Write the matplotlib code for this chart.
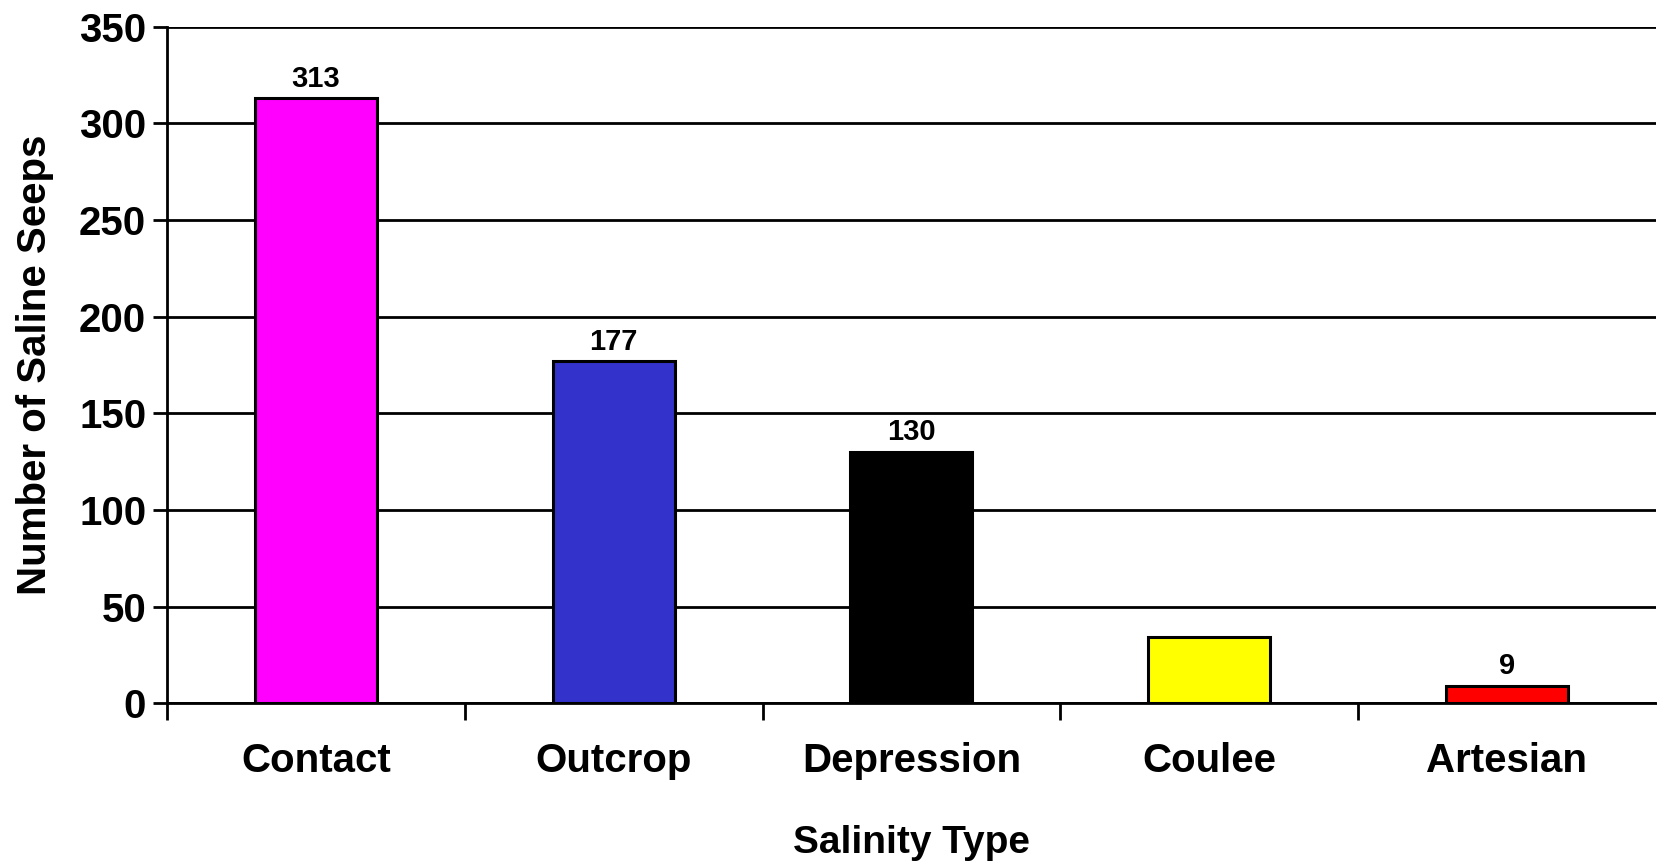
import matplotlib

matplotlib.use("Agg")
import matplotlib.pyplot as plt

categories = ["Contact", "Outcrop", "Depression", "Coulee", "Artesian"]
counts = [313, 177, 130, 34, 9]
bar_labels = ["313", "177", "130", "", "9"]
bar_colors = ["#FF00FF", "#3333CC", "#000000", "#FFFF00", "#FF0000"]
y_ticks = [0, 50, 100, 150, 200, 250, 300, 350]

plt.rcParams["font.family"] = ["Liberation Sans", "DejaVu Sans"]
plt.rcParams["font.weight"] = "bold"

fig = plt.figure(figsize=(16.57, 8.66), dpi=100)
ax = fig.add_axes([0.1008, 0.188, 0.8985, 0.781])

x = range(len(categories))
bars = ax.bar(x, counts, width=0.41, color=bar_colors, edgecolor="black", linewidth=2.2, zorder=3)
for bar, label in zip(bars, bar_labels):
    if label:
        ax.annotate(label, (bar.get_x() + bar.get_width() / 2, bar.get_height()), xytext=(0, 4),
                    textcoords="offset points", ha="center", va="bottom", fontsize=21, fontweight="bold")

ax.set_xlim(-0.5, len(categories) - 0.5)
ax.set_ylim(0, 350)
ax.set_yticks(y_ticks)
ax.set_xticks(x, categories)
ax.set_xticks([i - 0.5 for i in range(len(categories))], minor=True)
ax.tick_params(axis="x", which="major", length=0, labelsize=29, pad=28)
ax.tick_params(axis="x", which="minor", length=12, width=2, direction="out")
ax.tick_params(axis="y", length=10, width=2, labelsize=29, pad=5)
ax.grid(axis="y", color="black", linewidth=2, zorder=0)

ax.spines["top"].set_visible(False)
ax.spines["right"].set_visible(False)
ax.spines["left"].set_linewidth(2)
ax.spines["bottom"].set_linewidth(2)

ax.set_xlabel("Salinity Type", fontsize=28, fontweight="bold", labelpad=32)
ax.set_ylabel("Number of Saline Seeps", fontsize=29, fontweight="bold", labelpad=18)

fig.savefig("out.png", dpi=100, facecolor="white")
